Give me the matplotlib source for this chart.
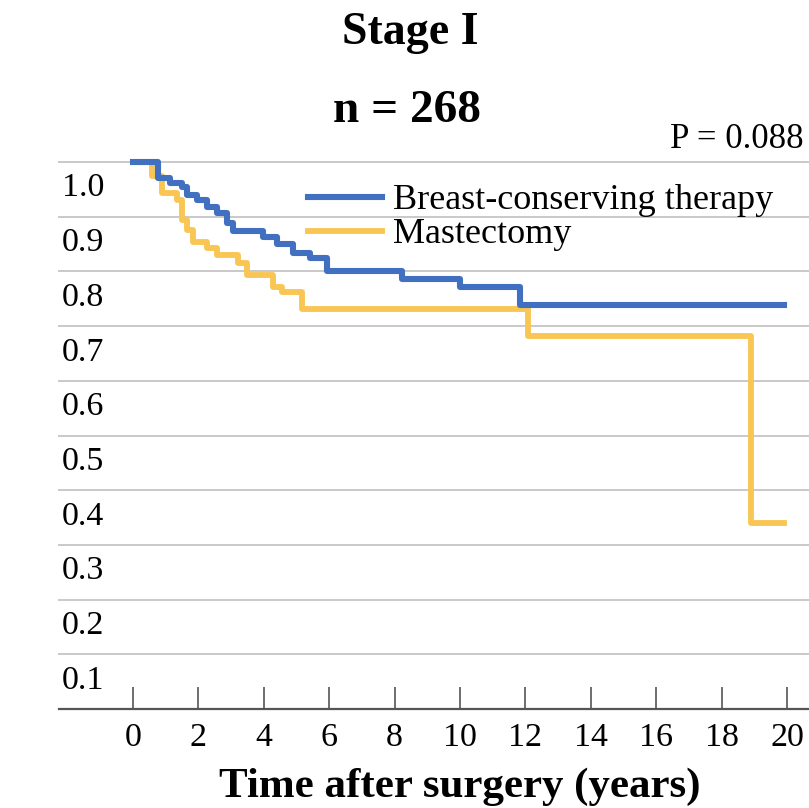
import matplotlib
matplotlib.use("Agg")
import matplotlib.pyplot as plt
import matplotlib.transforms as mtransforms

plt.rcParams["font.family"] = "Liberation Serif"

BLUE = "#4270C0"
GOLD = "#F9C553"
GRID = "#c9c9c9"
AXIS = "#555555"

# Kaplan-Meier steps (years, survival)
bct_t = [0, 0.77, 1.13, 1.49, 1.64, 1.95, 2.25, 2.57, 2.87, 3.07, 3.98, 4.40,
         4.90, 5.41, 5.92, 8.22, 10.0, 11.83, 19.9]
bct_s = [1.0, 0.970, 0.962, 0.955, 0.940, 0.930, 0.918, 0.906, 0.888, 0.874,
         0.863, 0.851, 0.833, 0.824, 0.800, 0.787, 0.772, 0.739, 0.739]
mast_t = [0, 0.57, 0.88, 1.34, 1.49, 1.64, 1.84, 2.25, 2.56, 3.22, 3.48, 4.29,
          4.55, 5.16, 12.08, 18.9, 19.9]
mast_s = [1.0, 0.975, 0.943, 0.930, 0.894, 0.876, 0.854, 0.842, 0.830, 0.815,
          0.793, 0.772, 0.763, 0.732, 0.681, 0.340, 0.340]

x_ticks = list(range(0, 21, 2))
y_grid = [i / 10 for i in range(11)]
y_labels = ["0.1", "0.2", "0.3", "0.4", "0.5", "0.6", "0.7", "0.8", "0.9", "1.0"]

W, H = 809, 808
fig = plt.figure(figsize=(W / 100, H / 100), dpi=100)
ax = fig.add_axes([59 / W, 99 / H, 750 / W, 547 / H])
ax.set_xlim(-2.26, 20.67)
ax.set_ylim(0, 1.0)

for g in y_grid[1:]:
    ax.axhline(g, color=GRID, lw=1.4, zorder=1, clip_on=False)

ax.step(bct_t, bct_s, where="post", color=BLUE, lw=4.4, zorder=3,
        clip_on=False, label="Breast-conserving therapy")
ax.step(mast_t, mast_s, where="post", color=GOLD, lw=4.2, zorder=2,
        clip_on=False, label="Mastectomy")

for sp in ["top", "right", "left"]:
    ax.spines[sp].set_visible(False)
ax.spines["bottom"].set_color(AXIS)
ax.spines["bottom"].set_linewidth(1.6)

ax.set_xticks(x_ticks)
ax.tick_params(axis="x", direction="in", length=16, width=1.2, color=AXIS,
               labelsize=24.5, pad=10)
ax.set_yticks([])

# y labels sit in the band under each gridline
trans = mtransforms.blended_transform_factory(ax.transAxes, ax.transData)
for i, lab in enumerate(y_labels):
    ax.text(0.004, (i + 1) / 10 - 0.063, lab, transform=trans, ha="left",
            va="baseline", fontsize=24.5)

ax.set_xlabel("Time after surgery (years)", fontsize=31, fontweight="bold")
ax.xaxis.label.set_va("baseline")
ax.xaxis.set_label_coords((460 - 59) / 750, (709 - 797) / 547)

ax.legend(loc="upper left", bbox_to_anchor=(308 / W, 1 - 184 / H),
          bbox_transform=fig.transFigure, frameon=False, fontsize=26,
          handlelength=2.05, handletextpad=0.3, labelspacing=0.02,
          borderpad=0, borderaxespad=0)

fig.text(410 / W, 1 - 44 / H, "Stage I", ha="center", va="baseline",
         fontsize=33, fontweight="bold")
fig.text(407 / W, 1 - 122 / H, "n = 268", ha="center", va="baseline",
         fontsize=34, fontweight="bold")
fig.text(804 / W, 1 - 148 / H, "P = 0.088", ha="right", va="baseline",
         fontsize=25)

fig.savefig("out.png", dpi=100)
